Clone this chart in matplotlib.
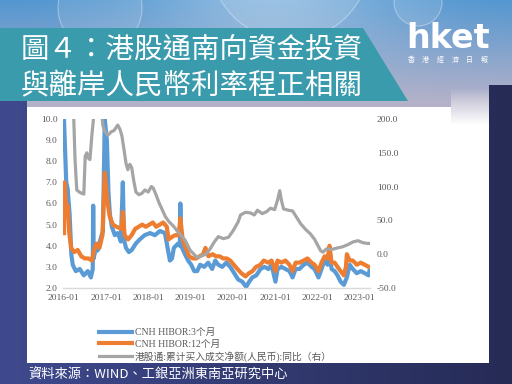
import numpy as np
import pandas as pd
import matplotlib
matplotlib.use("Agg")
import matplotlib.pyplot as plt
import matplotlib.dates as mdates
from matplotlib.patches import Polygon, Circle
from matplotlib.ticker import FormatStrFormatter

# ---------------------------
# data
# ---------------------------
blue_dates = ["2016-01-04", "2016-01-23", "2016-02-04", "2016-02-21", "2016-03-07", "2016-03-19",
              "2016-04-15", "2016-05-19", "2016-06-23", "2016-07-27", "2016-08-23", "2016-09-08",
              "2016-09-12", "2016-09-16", "2016-09-27", "2016-10-23", "2016-11-08", "2016-12-05",
              "2016-12-21", "2017-01-08", "2017-01-22", "2017-02-03", "2017-02-20", "2017-03-18",
              "2017-04-13", "2017-05-09", "2017-05-26", "2017-06-05", "2017-06-22", "2017-07-17",
              "2017-08-11", "2017-09-15", "2017-10-19", "2017-12-01", "2018-01-15", "2018-02-27",
              "2018-04-12", "2018-05-25", "2018-06-20", "2018-07-07", "2018-07-25", "2018-08-10",
              "2018-09-15", "2018-10-01", "2018-10-05", "2018-10-12", "2018-11-14", "2018-12-11",
              "2019-01-07", "2019-02-02", "2019-02-28", "2019-03-25", "2019-04-29", "2019-06-03",
              "2019-07-07", "2019-08-03", "2019-08-29", "2019-10-02", "2019-11-06", "2019-12-10",
              "2020-01-14", "2020-02-17", "2020-03-23", "2020-04-26", "2020-05-22", "2020-06-18",
              "2020-07-23", "2020-08-27", "2020-10-01", "2020-11-04", "2020-12-01", "2021-01-04",
              "2021-01-22", "2021-02-24", "2021-03-31", "2021-05-05", "2021-06-01", "2021-06-27",
              "2021-07-30", "2021-09-05", "2021-10-08", "2021-11-12", "2021-12-08", "2022-01-11",
              "2022-02-06", "2022-03-05", "2022-03-31", "2022-04-16", "2022-05-04", "2022-05-30",
              "2022-06-24", "2022-07-21", "2022-08-18", "2022-09-13", "2022-10-08", "2022-11-03",
              "2022-12-08", "2023-01-11", "2023-02-15", "2023-03-20", "2023-03-27"]
blue_vals = [9.9, 7.0, 6.7, 5.5, 3.6, 3.1,
             2.8, 2.9, 2.6, 2.8, 2.5, 2.9,
             5.9, 3.4, 3.7, 3.8, 4.2, 4.7,
             10.0, 9.0, 6.5, 5.5, 4.9, 4.5,
             4.6, 4.2, 7.0, 4.3, 3.9, 3.7,
             3.8, 4.1, 4.3, 4.5, 4.6, 4.5,
             4.7, 4.6, 3.8, 3.3, 3.4, 3.9,
             4.1, 4.0, 6.0, 4.0, 3.6, 3.3,
             3.1, 2.8, 2.8, 3.1, 3.0, 3.2,
             2.9, 3.3, 3.1, 3.0, 3.2, 3.0,
             2.7, 2.4, 2.3, 2.05, 2.3, 2.5,
             2.6, 2.9, 3.0, 2.9, 3.1, 2.3,
             2.9, 3.0, 2.9, 2.8, 2.5, 2.9,
             2.9, 3.1, 3.2, 3.0, 2.9, 2.5,
             2.9, 3.3, 3.1, 3.6, 2.9, 2.8,
             2.6, 2.3, 2.15, 2.5, 3.1, 2.9,
             2.7, 2.8, 2.7, 2.6, 2.8]

orange_dates = ["2016-01-04", "2016-01-08", "2016-01-20", "2016-02-05", "2016-02-18", "2016-03-05",
                "2016-04-01", "2016-05-01", "2016-06-01", "2016-07-01", "2016-08-01", "2016-09-01",
                "2016-09-20", "2016-10-10", "2016-11-05", "2016-12-01", "2016-12-21", "2017-01-10",
                "2017-02-01", "2017-03-01", "2017-04-01", "2017-05-15", "2017-05-26", "2017-06-10",
                "2017-07-10", "2017-08-10", "2017-09-10", "2017-10-10", "2017-11-10", "2017-12-10",
                "2018-01-10", "2018-02-10", "2018-03-10", "2018-04-10", "2018-05-10", "2018-06-10",
                "2018-06-25", "2018-07-20", "2018-08-20", "2018-09-20", "2018-10-05", "2018-10-25",
                "2018-11-20", "2018-12-20", "2019-01-20", "2019-02-20", "2019-03-20", "2019-04-20",
                "2019-05-10", "2019-06-05", "2019-07-10", "2019-08-10", "2019-09-10", "2019-10-10",
                "2019-11-10", "2019-12-10", "2020-01-10", "2020-02-10", "2020-03-15", "2020-04-20",
                "2020-05-20", "2020-06-20", "2020-07-20", "2020-08-27", "2020-09-25", "2020-11-01",
                "2020-12-01", "2021-01-04", "2021-01-22", "2021-02-24", "2021-03-31", "2021-05-05",
                "2021-06-01", "2021-06-27", "2021-07-30", "2021-09-05", "2021-10-08", "2021-11-12",
                "2021-12-08", "2022-01-11", "2022-02-06", "2022-03-05", "2022-03-31", "2022-04-16",
                "2022-05-04", "2022-05-30", "2022-06-24", "2022-07-21", "2022-08-18", "2022-09-05",
                "2022-09-13", "2022-10-08", "2022-11-03", "2022-12-08", "2023-01-11", "2023-02-15",
                "2023-03-20", "2023-03-27"]
orange_vals = [4.6, 7.0, 6.0, 5.9, 4.6, 3.9,
               3.7, 3.8, 3.5, 3.4, 3.4, 3.3,
               3.8, 4.1, 3.9, 4.5, 7.45, 6.2,
               5.4, 5.0, 4.9, 4.8, 5.6, 4.5,
               4.3, 4.5, 4.8, 4.9, 5.0, 4.9,
               5.0, 5.1, 4.9, 5.0, 5.1, 4.9,
               4.3, 4.4, 4.5, 4.5, 5.3, 4.3,
               3.9, 3.5, 3.4, 3.4, 3.5, 3.6,
               3.9, 3.5, 3.6, 3.5, 3.5, 3.4,
               3.4, 3.3, 3.1, 2.9, 2.7, 2.55,
               2.7, 2.8, 3.0, 3.1, 3.3, 3.2,
               3.3, 2.8, 3.3, 3.2, 3.3, 3.1,
               2.8, 3.2, 3.2, 3.3, 3.4, 3.2,
               3.1, 2.8, 3.2, 3.5, 3.4, 4.0,
               3.2, 3.2, 3.0, 2.8, 2.6, 3.0,
               3.6, 3.3, 3.3, 3.1, 3.2, 3.1,
               3.0, 3.0]

gray_dates = ["2016-03-15", "2016-03-28", "2016-04-08", "2016-04-23", "2016-05-15", "2016-06-05",
              "2016-06-23", "2016-07-05", "2016-07-19", "2016-08-01", "2016-08-15", "2016-08-31",
              "2016-09-17", "2016-10-20", "2016-11-20", "2016-12-05", "2016-12-21", "2017-01-17",
              "2017-02-14", "2017-03-11", "2017-04-12", "2017-05-01", "2017-05-18", "2017-06-05",
              "2017-06-22", "2017-07-08", "2017-07-26", "2017-08-11", "2017-08-29", "2017-09-16",
              "2017-10-12", "2017-11-07", "2017-12-03", "2017-12-31", "2018-01-27", "2018-02-12",
              "2018-03-09", "2018-04-04", "2018-05-01", "2018-05-27", "2018-06-29", "2018-08-04",
              "2018-09-05", "2018-10-11", "2018-11-14", "2018-12-28", "2019-02-10", "2019-02-28",
              "2019-04-12", "2019-05-15", "2019-06-20", "2019-07-25", "2019-08-29", "2019-10-12",
              "2019-11-25", "2020-01-05", "2020-02-17", "2020-03-08", "2020-04-20", "2020-06-03",
              "2020-07-05", "2020-08-01", "2020-09-12", "2020-10-20", "2020-11-22", "2020-12-28",
              "2021-01-22", "2021-02-10", "2021-02-24", "2021-03-15", "2021-04-26", "2021-06-01",
              "2021-06-27", "2021-08-10", "2021-09-20", "2021-11-02", "2021-12-08", "2022-01-05",
              "2022-01-30", "2022-02-18", "2022-03-22", "2022-05-04", "2022-06-18", "2022-08-08",
              "2022-09-20", "2022-11-03", "2022-12-18", "2023-01-30", "2023-03-05", "2023-03-27"]
gray_vals = [260, 200, 140, 95, 92, 90,
             89, 145, 150, 142, 140, 175,
             205, 235, 215, 190, 182, 176,
             181, 183, 191, 185, 175, 155,
             135, 125, 133, 128, 108, 92,
             88, 90, 95, 92, 100, 98,
             88, 76, 66, 56, 48, 42,
             35, 28, 21, 6, -2, -5,
             -2, 0, 8, 18, 26, 23,
             25, 35, 48, 58, 62, 61,
             58, 65, 60, 63, 68, 66,
             80, 94, 80, 67, 65, 64,
             57, 45, 37, 30, 22, 13,
             5, 3, 8, 7, 9, 11,
             14, 18, 20, 17, 16, 16]

legend_labels = ["CNH HIBOR:3个月", "CNH HIBOR:12个月", "港股通:累计买入成交净额(人民币):同比（右）"]
title_lines = ["圖４：港股通南向資金投資", "與離岸人民幣利率程正相關"]
source_text = "資料來源：WIND、工銀亞洲東南亞研究中心"

# ---------------------------
# background (pixel coordinates)
# ---------------------------
W, H = 512, 384
fig = plt.figure(figsize=(W / 100, H / 100), dpi=100)


def rgb(h):
    h = h.lstrip("#")
    return np.array([int(h[i:i + 2], 16) for i in (0, 2, 4)]) / 255.0


yy, xx = np.mgrid[0:H, 0:W]
bg = rgb("#3f4a8e") + (rgb("#262b55") - rgb("#3f4a8e")) * (xx / W)[..., None]

# light blue sky with bubbles on top
t = np.clip(yy / 100.0, 0, 1)[..., None]
sky = rgb("#5296d0") * (1 - t) + rgb("#b3b1c9") * t
glow = (np.exp(-((xx - 270) / 130.0) ** 2) * (1 - yy / 100.0).clip(0, 1))[..., None] * 0.35
sky = sky * (1 - glow) + glow
top_mask = ((yy < 101) & (xx < 27)) | ((yy < 107) & (xx >= 27) & (xx < 489)) | ((yy < 85) & (xx >= 489))
bg[top_mask] = sky[top_mask]

# white chart panel, with faded top-right corner
panel = (xx >= 27) & (xx < 489) & (yy >= 107) & (yy < 363)
bg[panel] = 1.0
fade = (xx >= 451) & (xx < 489) & (yy >= 88) & (yy < 124)
ft = ((yy - 88) / 36.0).clip(0, 1)[..., None]
mix = sky * (1 - ft) + ft
bg[fade] = mix[fade]

bg_ax = fig.add_axes([0, 0, 1, 1])
bg_ax.imshow(bg, extent=[0, W, H, 0], aspect="auto", interpolation="bilinear")
bg_ax.set_xlim(0, W)
bg_ax.set_ylim(H, 0)
bg_ax.axis("off")

for cx, cy, r in [(100, 8, 42), (290, -40, 80), (418, 2, 24)]:
    bg_ax.add_patch(Circle((cx, cy), r, facecolor=(1, 1, 1, 0.10), edgecolor=(1, 1, 1, 0.35), lw=0.8))

bg_ax.add_patch(Polygon([(0, 28), (363, 28), (408, 101), (0, 101)], closed=True,
                        facecolor="#3a9bad", edgecolor="none", zorder=3))

title_font = ["Noto Sans CJK TC", "DejaVu Sans"]
bg_ax.text(21, 51, title_lines[0], color="white", fontsize=20.5, family=title_font, va="center", ha="left", zorder=4)
bg_ax.text(21, 86, title_lines[1], color="white", fontsize=20.5, family=title_font, va="center", ha="left", zorder=4)

bg_ax.text(406, 48, "hket", color="white", fontsize=24, fontweight="bold", family="DejaVu Sans",
           va="baseline", ha="left", zorder=4)
for i, ch in enumerate("香港經濟日報"):
    bg_ax.text(411 + i * 14.6, 60, ch, color="white", fontsize=5, family=title_font, va="center", ha="center", zorder=4)

bg_ax.text(28, 375, source_text, color="white", fontsize=9.5, family=title_font, va="center", ha="left")

# ---------------------------
# chart
# ---------------------------
ax = fig.add_axes([63 / W, 1 - 288 / H, 307 / W, 169 / H])
ax.patch.set_visible(False)
l1, = ax.plot(pd.to_datetime(blue_dates), blue_vals, color="#5b9bd5", lw=3.0, solid_joinstyle="round")
l2, = ax.plot(pd.to_datetime(orange_dates), orange_vals, color="#ed7d31", lw=3.0, solid_joinstyle="round")
ax2 = ax.twinx()
l3, = ax2.plot(pd.to_datetime(gray_dates), gray_vals, color="#a5a5a5", lw=2.3, solid_joinstyle="round")

ax.set_ylim(2, 10)
ax2.set_ylim(-50, 200)
ax.set_yticks(np.arange(2, 10.5, 1))
ax2.set_yticks(np.arange(-50, 201, 50))
ax.yaxis.set_major_formatter(FormatStrFormatter("%.1f"))
ax2.yaxis.set_major_formatter(FormatStrFormatter("%.1f"))
ax.set_xlim(pd.Timestamp("2015-12-26"), pd.Timestamp("2023-04-01"))
ax.set_xticks(pd.to_datetime([f"{y}-01-01" for y in range(2016, 2024)]))
ax.xaxis.set_major_formatter(mdates.DateFormatter("%Y-%m"))

for a in (ax, ax2):
    for s in a.spines.values():
        s.set_visible(False)
ax.spines["bottom"].set_visible(True)
ax.spines["bottom"].set_color("#d9d9d9")
ax.spines["bottom"].set_linewidth(1.0)

serif = "Liberation Serif"
ax.tick_params(axis="y", length=0, pad=4, labelsize=6.8, labelcolor="#595959")
ax.tick_params(axis="x", length=0, pad=4, labelsize=6.8, labelcolor="#595959")
ax2.tick_params(axis="y", length=0, pad=5, labelsize=6.8, labelcolor="#595959")
for lab in ax.get_xticklabels() + ax.get_yticklabels() + ax2.get_yticklabels():
    lab.set_family(serif)

leg = ax.legend([l1, l2, l3], legend_labels, loc="upper left",
                bbox_to_anchor=(99 / W, 1 - 328 / H), bbox_transform=fig.transFigure,
                frameon=False, handlelength=3.4, handletextpad=0.3, labelspacing=0.25,
                borderpad=0, borderaxespad=0, labelcolor="#595959",
                prop={"family": [serif, "Noto Sans CJK SC"], "size": 7})

fig.savefig("out.png", dpi=100)
